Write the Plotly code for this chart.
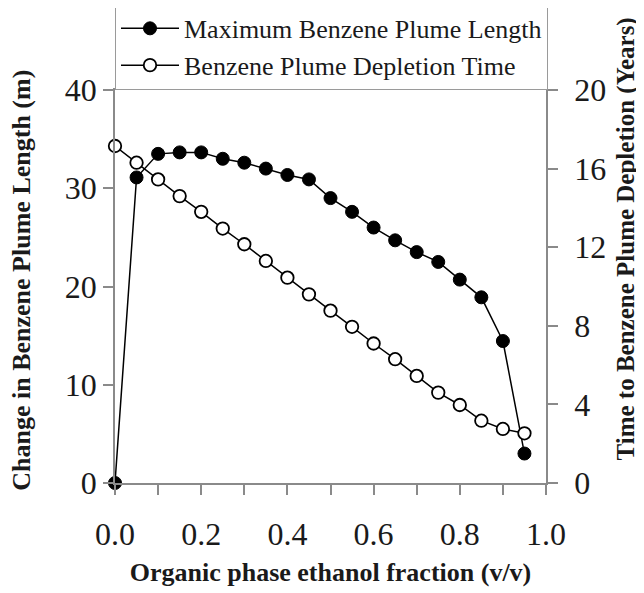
import plotly.graph_objects as go

# ---- data ----
ethanol_fraction = [0.0, 0.05, 0.1, 0.15, 0.2, 0.25, 0.3, 0.35, 0.4, 0.45,
                    0.5, 0.55, 0.6, 0.65, 0.7, 0.75, 0.8, 0.85, 0.9, 0.95]
max_plume_length = [0.0, 31.1, 33.5, 33.65, 33.65, 33.0, 32.6, 32.0, 31.35, 30.9,
                    29.0, 27.6, 26.0, 24.7, 23.5, 22.5, 20.7, 18.9, 14.45, 3.0]
depletion_time = [17.15, 16.3, 15.45, 14.6, 13.8, 12.95, 12.15, 11.3, 10.45, 9.6,
                  8.77, 7.95, 7.1, 6.3, 5.45, 4.6, 3.97, 3.17, 2.75, 2.53]

x_tickvals = [0.0, 0.2, 0.4, 0.6, 0.8, 1.0]
x_ticktext = ["0.0", "0.2", "0.4", "0.6", "0.8", "1.0"]
y_tickvals = [0, 10, 20, 30, 40]
y2_tickvals = [0, 4, 8, 12, 16, 20]

name_length = "Maximum Benzene Plume Length"
name_time = "Benzene Plume Depletion Time"
x_title = "Organic phase ethanol fraction (v/v)"
y_title = "Change in Benzene Plume Length (m)"
y2_title = "Time to Benzene Plume Depletion (Years)"

SERIF = "Liberation Serif, Times New Roman, serif"
AXIS_GREY = "#8a8a8a"
TEXT = "#1a1a1a"

fig = go.Figure()
fig.add_trace(go.Scatter(
    x=ethanol_fraction, y=max_plume_length, name=name_length,
    mode="lines+markers",
    line=dict(color="black", width=1.5),
    marker=dict(symbol="circle", size=13, color="black",
                line=dict(color="black", width=1)),
    yaxis="y", cliponaxis=False,
))
fig.add_trace(go.Scatter(
    x=ethanol_fraction, y=depletion_time, name=name_time,
    mode="lines+markers",
    line=dict(color="black", width=1.5),
    marker=dict(symbol="circle", size=12.5, color="white",
                line=dict(color="black", width=1.8)),
    yaxis="y2", cliponaxis=False,
))

# The page adds an 8px body margin, so the figure is 8px smaller each way
fig.update_layout(
    width=636, height=585,
    margin=dict(l=107, r=98, t=82, b=110, autoexpand=False),
    paper_bgcolor="white", plot_bgcolor="white",
    font=dict(family=SERIF, color=TEXT, size=32),
    showlegend=True,
    legend=dict(
        x=0, xanchor="left", y=1.219, yanchor="top",
        bgcolor="white", bordercolor="#9a9a9a", borderwidth=1,
        font=dict(family=SERIF, size=26, color=TEXT),
        itemwidth=58, tracegroupgap=0,
    ),
    xaxis=dict(
        range=[0, 1.0], tickvals=x_tickvals, ticktext=x_ticktext,
        showgrid=False, zeroline=False,
        showline=True, linecolor=AXIS_GREY, linewidth=1.5, mirror=True,
        ticks="outside", ticklen=10, tickcolor=AXIS_GREY, tickwidth=1.5,
        minor=dict(dtick=0.1, tick0=0, ticks="outside", ticklen=10,
                   tickcolor=AXIS_GREY, tickwidth=1.5, showgrid=False),
        tickfont=dict(family=SERIF, size=32, color=TEXT),
        ticklabelstandoff=12,
        title=dict(text="<b>" + x_title + "</b>",
                   font=dict(family=SERIF, size=26, color=TEXT), standoff=12),
    ),
    yaxis=dict(
        range=[0, 40], tickvals=y_tickvals,
        showgrid=False, zeroline=False,
        showline=True, linecolor=AXIS_GREY, linewidth=1.5,
        ticks="outside", ticklen=10, tickcolor=AXIS_GREY, tickwidth=1.5,
        tickfont=dict(family=SERIF, size=32, color=TEXT),
    ),
    yaxis2=dict(
        range=[0, 20], tickvals=y2_tickvals, overlaying="y", side="right",
        showgrid=False, zeroline=False,
        showline=True, linecolor=AXIS_GREY, linewidth=1.5,
        ticks="outside", ticklen=10, tickcolor=AXIS_GREY, tickwidth=1.5,
        tickfont=dict(family=SERIF, size=32, color=TEXT),
        ticklabelstandoff=10,
    ),
    annotations=[
        dict(
            text="<b>" + y_title + "</b>", textangle=-90,
            xref="paper", yref="paper", x=-0.216, y=0.517,
            xanchor="center", yanchor="middle", showarrow=False,
            font=dict(family=SERIF, size=26, color=TEXT),
        ),
        dict(
            text="<b>" + y2_title + "</b>", textangle=-90,
            xref="paper", yref="paper", x=1.186, y=0.62,
            xanchor="center", yanchor="middle", showarrow=False,
            font=dict(family=SERIF, size=25, color=TEXT),
        ),
    ],
)

fig.write_html("out.html")
